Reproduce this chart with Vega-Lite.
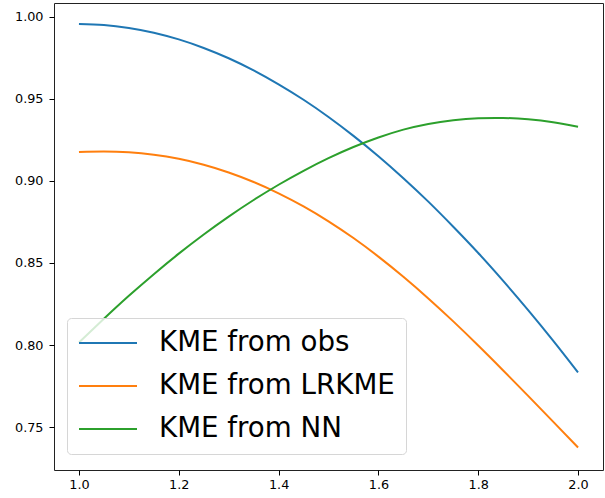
{
  "$schema": "https://vega.github.io/schema/vega-lite/v6.json",
  "width": 549,
  "height": 467,
  "autosize": {"type": "none"},
  "padding": {"left": 54, "top": 3, "right": 2, "bottom": 28},
  "config": {
    "font": "DejaVu Sans",
    "view": {"stroke": "#222", "strokeWidth": 1},
    "axis": {
      "domain": false,
      "grid": false,
      "tickColor": "#000",
      "tickSize": 5,
      "tickWidth": 1,
      "labelColor": "#000",
      "labelFont": "DejaVu Sans",
      "labelFontSize": 12.8,
      "title": null
    }
  },
  "data": {
    "values": [
      {"x": 1.00, "y": 0.9957, "series": "KME from obs"},
      {"x": 1.05, "y": 0.9951, "series": "KME from obs"},
      {"x": 1.10, "y": 0.9933, "series": "KME from obs"},
      {"x": 1.15, "y": 0.9904, "series": "KME from obs"},
      {"x": 1.20, "y": 0.9863, "series": "KME from obs"},
      {"x": 1.25, "y": 0.9811, "series": "KME from obs"},
      {"x": 1.30, "y": 0.9748, "series": "KME from obs"},
      {"x": 1.35, "y": 0.9674, "series": "KME from obs"},
      {"x": 1.40, "y": 0.9589, "series": "KME from obs"},
      {"x": 1.45, "y": 0.9495, "series": "KME from obs"},
      {"x": 1.50, "y": 0.9390, "series": "KME from obs"},
      {"x": 1.55, "y": 0.9275, "series": "KME from obs"},
      {"x": 1.60, "y": 0.9151, "series": "KME from obs"},
      {"x": 1.65, "y": 0.9017, "series": "KME from obs"},
      {"x": 1.70, "y": 0.8874, "series": "KME from obs"},
      {"x": 1.75, "y": 0.8721, "series": "KME from obs"},
      {"x": 1.80, "y": 0.8561, "series": "KME from obs"},
      {"x": 1.85, "y": 0.8391, "series": "KME from obs"},
      {"x": 1.90, "y": 0.8213, "series": "KME from obs"},
      {"x": 1.95, "y": 0.8027, "series": "KME from obs"},
      {"x": 2.00, "y": 0.7833, "series": "KME from obs"},
      {"x": 1.00, "y": 0.9177, "series": "KME from LRKME"},
      {"x": 1.05, "y": 0.9180, "series": "KME from LRKME"},
      {"x": 1.10, "y": 0.9175, "series": "KME from LRKME"},
      {"x": 1.15, "y": 0.9160, "series": "KME from LRKME"},
      {"x": 1.20, "y": 0.9135, "series": "KME from LRKME"},
      {"x": 1.25, "y": 0.9099, "series": "KME from LRKME"},
      {"x": 1.30, "y": 0.9052, "series": "KME from LRKME"},
      {"x": 1.35, "y": 0.8994, "series": "KME from LRKME"},
      {"x": 1.40, "y": 0.8925, "series": "KME from LRKME"},
      {"x": 1.45, "y": 0.8845, "series": "KME from LRKME"},
      {"x": 1.50, "y": 0.8754, "series": "KME from LRKME"},
      {"x": 1.55, "y": 0.8652, "series": "KME from LRKME"},
      {"x": 1.60, "y": 0.8539, "series": "KME from LRKME"},
      {"x": 1.65, "y": 0.8416, "series": "KME from LRKME"},
      {"x": 1.70, "y": 0.8284, "series": "KME from LRKME"},
      {"x": 1.75, "y": 0.8144, "series": "KME from LRKME"},
      {"x": 1.80, "y": 0.7997, "series": "KME from LRKME"},
      {"x": 1.85, "y": 0.7845, "series": "KME from LRKME"},
      {"x": 1.90, "y": 0.7690, "series": "KME from LRKME"},
      {"x": 1.95, "y": 0.7533, "series": "KME from LRKME"},
      {"x": 2.00, "y": 0.7375, "series": "KME from LRKME"},
      {"x": 1.00, "y": 0.8015, "series": "KME from NN"},
      {"x": 1.05, "y": 0.8160, "series": "KME from NN"},
      {"x": 1.10, "y": 0.8300, "series": "KME from NN"},
      {"x": 1.15, "y": 0.8432, "series": "KME from NN"},
      {"x": 1.20, "y": 0.8557, "series": "KME from NN"},
      {"x": 1.25, "y": 0.8674, "series": "KME from NN"},
      {"x": 1.30, "y": 0.8783, "series": "KME from NN"},
      {"x": 1.35, "y": 0.8884, "series": "KME from NN"},
      {"x": 1.40, "y": 0.8977, "series": "KME from NN"},
      {"x": 1.45, "y": 0.9062, "series": "KME from NN"},
      {"x": 1.50, "y": 0.9139, "series": "KME from NN"},
      {"x": 1.55, "y": 0.9207, "series": "KME from NN"},
      {"x": 1.60, "y": 0.9265, "series": "KME from NN"},
      {"x": 1.65, "y": 0.9313, "series": "KME from NN"},
      {"x": 1.70, "y": 0.9348, "series": "KME from NN"},
      {"x": 1.75, "y": 0.9370, "series": "KME from NN"},
      {"x": 1.80, "y": 0.9382, "series": "KME from NN"},
      {"x": 1.85, "y": 0.9384, "series": "KME from NN"},
      {"x": 1.90, "y": 0.9376, "series": "KME from NN"},
      {"x": 1.95, "y": 0.9358, "series": "KME from NN"},
      {"x": 2.00, "y": 0.9330, "series": "KME from NN"}
    ]
  },
  "mark": {"type": "line", "strokeWidth": 2, "interpolate": "natural"},
  "encoding": {
    "x": {
      "field": "x",
      "type": "quantitative",
      "scale": {"domain": [0.95, 2.05], "nice": false, "zero": false},
      "axis": {"values": [1.0, 1.2, 1.4, 1.6, 1.8, 2.0], "format": ".1f", "labelPadding": 3}
    },
    "y": {
      "field": "y",
      "type": "quantitative",
      "scale": {"domain": [0.7238, 1.0085], "nice": false, "zero": false},
      "axis": {"values": [0.75, 0.8, 0.85, 0.9, 0.95, 1.0], "format": ".2f", "labelPadding": 6}
    },
    "color": {
      "field": "series",
      "type": "nominal",
      "scale": {
        "domain": ["KME from obs", "KME from LRKME", "KME from NN"],
        "range": ["#1f77b4", "#ff7f0e", "#2ca02c"]
      },
      "legend": {
        "title": null,
        "orient": "none",
        "legendX": 13,
        "legendY": 315,
        "padding": 11,
        "symbolType": "stroke",
        "symbolSize": 3364,
        "symbolStrokeWidth": 2,
        "labelFont": "DejaVu Sans",
        "labelFontSize": 27.7,
        "labelColor": "#000",
        "labelOffset": 21,
        "labelLimit": 400,
        "clipHeight": 28,
        "rowPadding": 15,
        "fillColor": "rgba(255,255,255,0.8)",
        "strokeColor": "#d6d6d6",
        "cornerRadius": 4
      }
    }
  }
}
